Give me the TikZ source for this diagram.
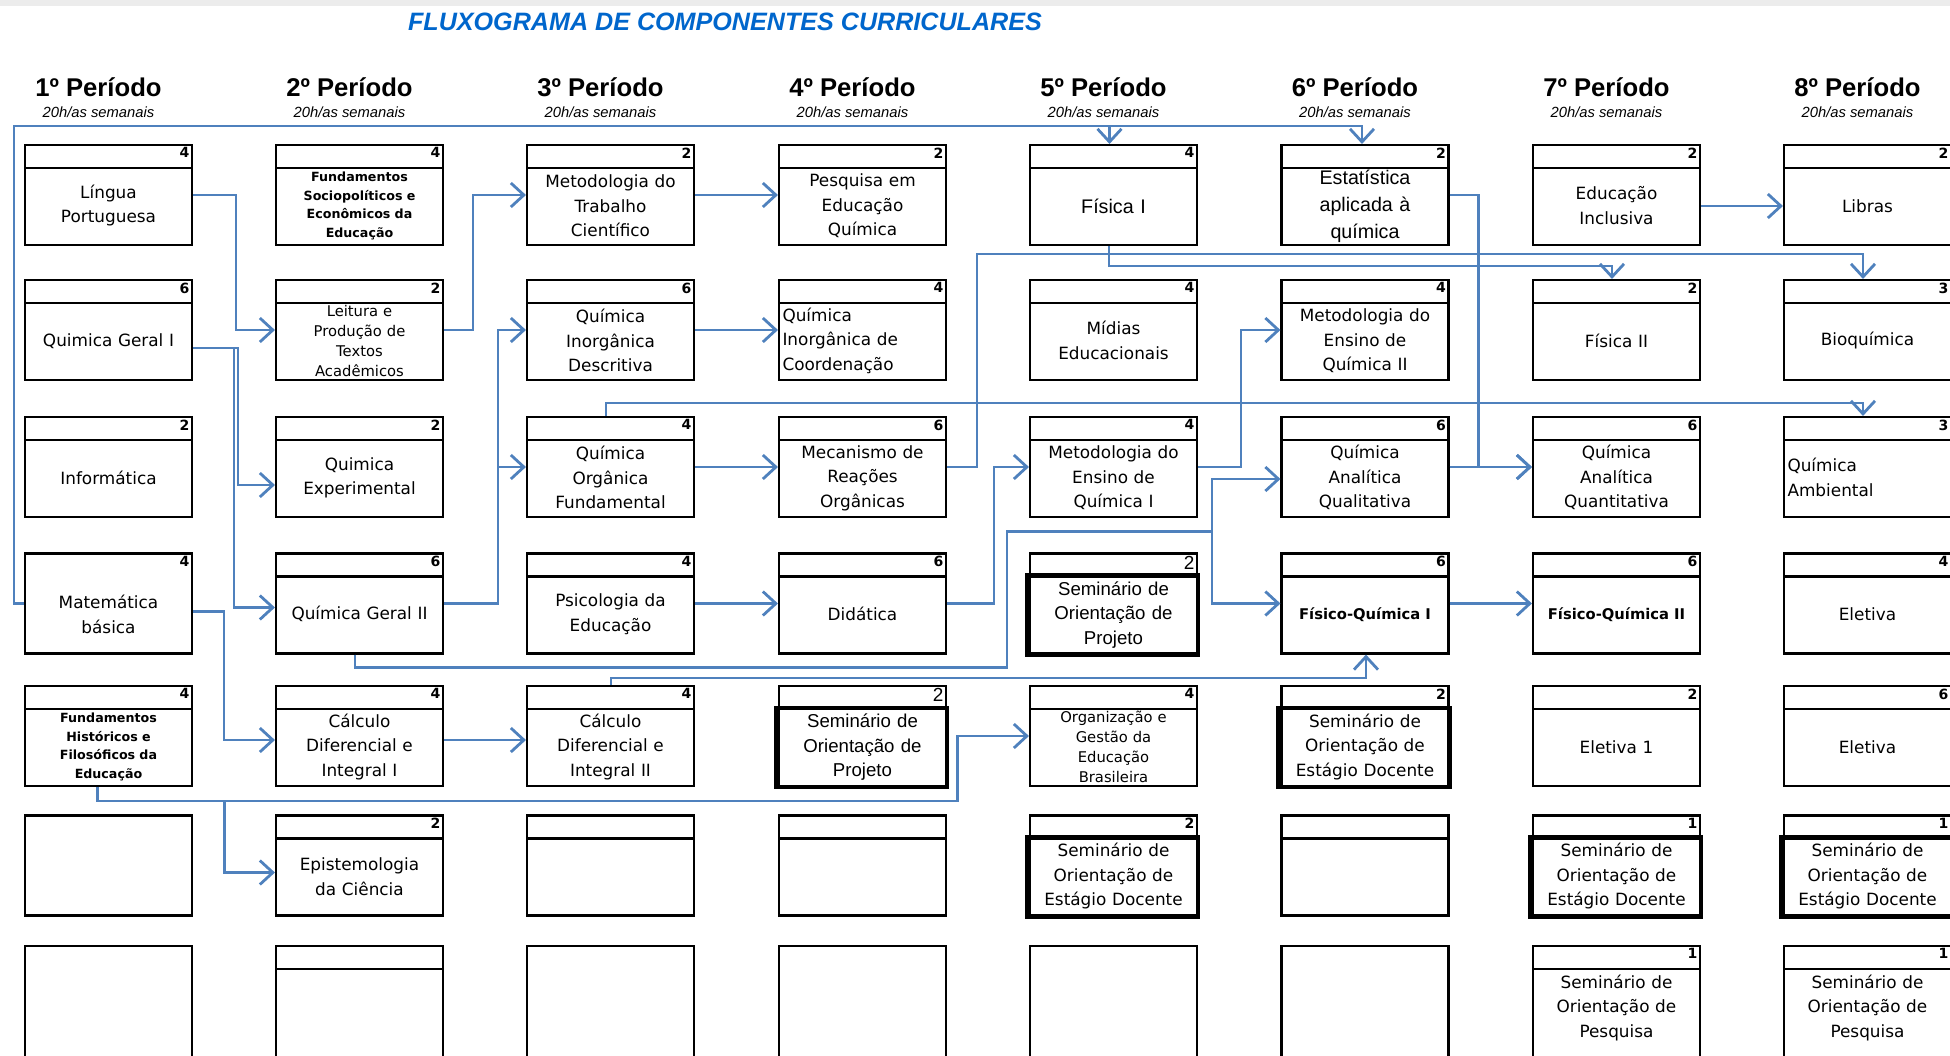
\documentclass[tikz,border=0pt]{standalone}
\usepackage{fontspec}
\setmainfont{DejaVu Sans}
\newfontfamily\arialfont{Liberation Sans}
\usetikzlibrary{arrows.meta, positioning}
\definecolor{azul}{RGB}{79,129,189}
\definecolor{azultit}{RGB}{0,102,204}
\newcommand{\grande}{\arialfont\fontsize{5.6}{7.8}\selectfont}
\newcommand{\miudo}{\fontsize{4.2}{5.6}\selectfont}
\newcommand{\miudob}{\bfseries\fontsize{3.6}{5.3}\selectfont}
\tikzstyle{corpo} = [rectangle, draw=black, line width=0.6pt, minimum width=1.67cm, inner sep=0.02cm, text width=1.6cm, align=center, font=\fontsize{4.8}{7}\selectfont]
\tikzstyle{caixa} = [corpo, minimum height=1cm, execute at begin node={\rule{0pt}{\dimexpr0.22cm+0.76em\relax}}]
\tikzstyle{caixab} = [corpo, minimum height=1.2cm, execute at begin node={\rule{0pt}{\dimexpr0.04cm+0.76em\relax}}]
\tikzstyle{cab} = [path picture={\draw[line width=0.6pt] ([yshift=-0.23cm]path picture bounding box.north west) -- ([yshift=-0.23cm]path picture bounding box.north east);}]
\tikzstyle{disc} = [caixa, cab]
\tikzstyle{discb} = [caixab, cab]
\tikzstyle{projeto} = [disc, font=\arialfont\fontsize{5.3}{7}\selectfont, inner ysep=0pt]
\tikzstyle{cred} = [anchor=north east, inner sep=0.03cm, text width=, align=right, font=\bfseries\fontsize{4}{4}\selectfont]
\tikzstyle{credg} = [cred, font=\arialfont\fontsize{5.4}{5.4}\selectfont]
\tikzstyle{grosso} = [line width=1.3pt]
\tikzstyle{seta} = [draw=azul, line width=0.8pt, -{Straight Barb[length=1.3mm, width=2.4mm]}]
\tikzstyle{periodo} = [font=\arialfont\bfseries\fontsize{7.3}{8}\selectfont]
\tikzstyle{horas} = [font=\arialfont\itshape\fontsize{4.2}{4.5}\selectfont]

\begin{document}
\begin{tikzpicture}
        \useasboundingbox (0,0) rectangle (19.5,-10.56);
        \draw[gray!15, line width=2pt] (0,-0.02) -- (19.5,-0.02);
        % titulo
        \node[font=\arialfont\bfseries\itshape\fontsize{7.15}{8}\selectfont, text=azultit] (tit) at (7.25,-0.22) {FLUXOGRAMA DE COMPONENTES CURRICULARES};

        % periodos
        \node[periodo] (p1) at (0.985,-0.87) {1º Período};
        \node[horas] (h1) at (0.985,-1.12) {20h/as semanais};
        \node[periodo] (p2) at (3.495,-0.87) {2º Período};
        \node[horas] (h2) at (3.495,-1.12) {20h/as semanais};
        \node[periodo] (p3) at (6.005,-0.87) {3º Período};
        \node[horas] (h3) at (6.005,-1.12) {20h/as semanais};
        \node[periodo] (p4) at (8.525,-0.87) {4º Período};
        \node[horas] (h4) at (8.525,-1.12) {20h/as semanais};
        \node[periodo] (p5) at (11.035,-0.87) {5º Período};
        \node[horas] (h5) at (11.035,-1.12) {20h/as semanais};
        \node[periodo] (p6) at (13.55,-0.87) {6º Período};
        \node[horas] (h6) at (13.55,-1.12) {20h/as semanais};
        \node[periodo] (p7) at (16.065,-0.87) {7º Período};
        \node[horas] (h7) at (16.065,-1.12) {20h/as semanais};
        \node[periodo] (p8) at (18.575,-0.87) {8º Período};
        \node[horas] (h8) at (18.575,-1.12) {20h/as semanais};

        % 1o periodo
        \node[disc, label={[cred]north east:4}] (lpo) at (1.085,-1.95) {Língua\\Portuguesa};
        \node[disc, label={[cred]north east:6}] (qg1) at (1.085,-3.30) {Quimica Geral I};
        \node[disc, label={[cred]north east:2}] (inf) at (1.085,-4.67) {Informática};
        \node[caixa, label={[cred]north east:4}] (mab) at (1.085,-6.035) {Matemática\\básica};
        \node[disc, font=\miudob, label={[cred]north east:4}] (fhf) at (1.085,-7.36) {Fundamentos\\Históricos e\\Filosóficos da\\Educação};
        \node[caixa] (v16) at (1.085,-8.655) {};
        \node[caixab] (v17) at (1.085,-10.06) {};

        % 2o periodo
        \node[disc, font=\miudob, label={[cred]north east:4}] (fse) at (3.595,-1.95) {Fundamentos\\Sociopolíticos e\\Econômicos da\\Educação};
        \node[disc, font=\miudo, label={[cred]north east:2}] (lpt) at (3.595,-3.30) {Leitura e\\Produção de\\Textos\\Acadêmicos};
        \node[disc, label={[cred]north east:2}] (qex) at (3.595,-4.67) {Quimica\\Experimental};
        \node[disc, label={[cred]north east:6}] (qg2) at (3.595,-6.035) {Química Geral II};
        \node[disc, label={[cred]north east:4}] (cd1) at (3.595,-7.36) {Cálculo\\Diferencial e\\Integral I};
        \node[disc, label={[cred]north east:2}] (epi) at (3.595,-8.655) {Epistemologia\\da Ciência};
        \node[discb] (v27) at (3.595,-10.06) {};

        % 3o periodo
        \node[disc, label={[cred]north east:2}] (mtc) at (6.105,-1.95) {Metodologia do\\Trabalho\\Científico};
        \node[disc, label={[cred]north east:6}] (qid) at (6.105,-3.30) {Química\\Inorgânica\\Descritiva};
        \node[disc, label={[cred]north east:4}] (qof) at (6.105,-4.67) {Química\\Orgânica\\Fundamental};
        \node[disc, label={[cred]north east:4}] (psi) at (6.105,-6.035) {Psicologia da\\Educação};
        \node[disc, label={[cred]north east:4}] (cd2) at (6.105,-7.36) {Cálculo\\Diferencial e\\Integral II};
        \node[disc] (v36) at (6.105,-8.655) {};
        \node[caixab] (v37) at (6.105,-10.06) {};

        % 4o periodo
        \node[disc, label={[cred]north east:2}] (peq) at (8.625,-1.95) {Pesquisa em\\Educação\\Química};
        \node[disc, align=left, label={[cred]north east:4}] (qic) at (8.625,-3.30) {Química\\Inorgânica de\\Coordenação};
        \node[disc, label={[cred]north east:6}] (mro) at (8.625,-4.67) {Mecanismo de\\Reações\\Orgânicas};
        \node[disc, label={[cred]north east:6}] (dida) at (8.625,-6.035) {Didática};
        \node[projeto, label={[credg]north east:2}] (sop4) at (8.625,-7.36) {Seminário de\\Orientação de\\Projeto};
        \node[disc] (v46) at (8.625,-8.655) {};
        \node[caixab] (v47) at (8.625,-10.06) {};

        % 5o periodo
        \node[disc, font=\grande, label={[cred]north east:4}] (fi1) at (11.135,-1.95) {Física I};
        \node[disc, label={[cred]north east:4}] (mid) at (11.135,-3.30) {Mídias\\Educacionais};
        \node[disc, label={[cred]north east:4}] (meq1) at (11.135,-4.67) {Metodologia do\\Ensino de\\Química I};
        \node[projeto, label={[credg]north east:2}] (sop5) at (11.135,-6.035) {Seminário de\\Orientação de\\Projeto};
        \node[disc, font=\miudo, label={[cred]north east:4}] (oge) at (11.135,-7.36) {Organização e\\Gestão da\\Educação\\Brasileira};
        \node[disc, label={[cred]north east:2}] (sed5) at (11.135,-8.655) {Seminário de\\Orientação de\\Estágio Docente};
        \node[caixab] (v57) at (11.135,-10.06) {};

        % 6o periodo
        \node[disc, font=\grande, label={[cred]north east:2}] (est) at (13.65,-1.95) {Estatística\\aplicada à\\química};
        \node[disc, label={[cred]north east:4}] (meq2) at (13.65,-3.30) {Metodologia do\\Ensino de\\Química II};
        \node[disc, label={[cred]north east:6}] (qaql) at (13.65,-4.67) {Química\\Analítica\\Qualitativa};
        \node[disc, font=\bfseries\fontsize{4.2}{6}\selectfont, label={[cred]north east:6}] (fq1) at (13.65,-6.035) {Físico-Química I};
        \node[disc, label={[cred]north east:2}] (sed6) at (13.65,-7.36) {Seminário de\\Orientação de\\Estágio Docente};
        \node[disc] (v66) at (13.65,-8.655) {};
        \node[caixab] (v67) at (13.65,-10.06) {};

        % 7o periodo
        \node[disc, label={[cred]north east:2}] (edi) at (16.165,-1.95) {Educação\\Inclusiva};
        \node[disc, label={[cred]north east:2}] (fi2) at (16.165,-3.30) {Física II};
        \node[disc, label={[cred]north east:6}] (qaqt) at (16.165,-4.67) {Química\\Analítica\\Quantitativa};
        \node[disc, font=\bfseries\fontsize{4.2}{6}\selectfont, label={[cred]north east:6}] (fq2) at (16.165,-6.035) {Físico-Química II};
        \node[disc, label={[cred]north east:2}] (el1) at (16.165,-7.36) {Eletiva 1};
        \node[disc, label={[cred]north east:1}] (sed7) at (16.165,-8.655) {Seminário de\\Orientação de\\Estágio Docente};
        \node[discb, label={[cred]north east:1}] (spe7) at (16.165,-10.06) {Seminário de\\Orientação de\\Pesquisa};

        % 8o periodo
        \node[disc, label={[cred]north east:2}] (lib) at (18.675,-1.95) {Libras};
        \node[disc, label={[cred]north east:3}] (bio) at (18.675,-3.30) {Bioquímica};
        \node[disc, align=left, label={[cred]north east:3}] (qam) at (18.675,-4.67) {Química\\Ambiental};
        \node[disc, label={[cred]north east:4}] (el8a) at (18.675,-6.035) {Eletiva};
        \node[disc, label={[cred]north east:6}] (el8b) at (18.675,-7.36) {Eletiva};
        \node[disc, label={[cred]north east:1}] (sed8) at (18.675,-8.655) {Seminário de\\Orientação de\\Estágio Docente};
        \node[discb, label={[cred]north east:1}] (spe8) at (18.675,-10.06) {Seminário de\\Orientação de\\Pesquisa};

        % seminarios: corpo com borda grossa
        \draw[grosso] ([xshift=-0.02cm,yshift=-0.23cm]sop4.north west) rectangle (sop4.south east);
        \draw[grosso] ([xshift=-0.02cm,yshift=-0.23cm]sop5.north west) rectangle (sop5.south east);
        \draw[grosso] ([xshift=-0.02cm,yshift=-0.23cm]sed5.north west) rectangle (sed5.south east);
        \draw[grosso] ([xshift=-0.02cm,yshift=-0.23cm]sed6.north west) rectangle (sed6.south east);
        \draw[grosso] ([xshift=-0.02cm,yshift=-0.23cm]sed7.north west) rectangle (sed7.south east);
        \draw[grosso] ([xshift=-0.02cm,yshift=-0.23cm]sed8.north west) rectangle (sed8.south east);

        % pre-requisitos: 1o periodo
        \draw[seta] (lpo.east) -- ++(0.43,0) |- (lpt.west);
        \draw[seta] ([yshift=-0.18cm]qg1.east) -- ++(0.45,0) |- ([yshift=-0.18cm]qex.west);
        \draw[seta] ([yshift=-0.18cm]qg1.east) -- ++(0.41,0) |- ([yshift=-0.04cm]qg2.west);
        \draw[seta] ([yshift=-0.08cm]mab.east) -- ++(0.31,0) |- ([yshift=-0.04cm]cd1.west);
        \draw[seta] (mab.west) -- ++(-0.1,0) |- ([xshift=-0.04cm,yshift=0.18cm]fi1.north) -- ([xshift=-0.04cm]fi1.north);
        \draw[seta] (mab.west) -- ++(-0.1,0) |- ([xshift=-0.03cm,yshift=0.18cm]est.north) -- ([xshift=-0.03cm]est.north);
        \draw[seta] ([xshift=-0.11cm]fhf.south) -- ++(0,-0.14) -- ++(8.6,0) |- (oge.west);
        \draw[seta] ([xshift=-0.11cm]fhf.south) -- ++(0,-0.14) -- ++(1.27,0) |- ([yshift=-0.07cm]epi.west);

        % pre-requisitos: 2o periodo
        \draw[seta] (lpt.east) -- ++(0.29,0) |- (mtc.west);
        \draw[seta] (qg2.east) -- ++(0.54,0) |- (qid.west);
        \draw[seta] (qg2.east) -- ++(0.54,0) |- (qof.west);
        \draw[seta] ([yshift=-0.04cm]cd1.east) -- ([yshift=-0.04cm]cd2.west);
        \draw[seta] ([xshift=-0.045cm]qg2.south) -- ++(0,-0.13) -- ++(6.52,0) -- ++(0,1.36) -- ++(2.05,0) |- ([yshift=-0.12cm]qaql.west);
        \draw[seta] ([xshift=-0.045cm]qg2.south) -- ++(0,-0.13) -- ++(6.52,0) -- ++(0,1.36) -- ++(2.05,0) |- (fq1.west);

        % pre-requisitos: 3o periodo
        \draw[seta] (mtc.east) -- (peq.west);
        \draw[seta] (qid.east) -- (qic.west);
        \draw[seta] (qof.east) -- (mro.west);
        \draw[seta] (psi.east) -- (dida.west);
        \draw[seta] ([xshift=-0.045cm]qof.north) -- ++(0,0.13) -| ([xshift=-0.045cm]qam.north);
        \draw[seta] ([xshift=0.005cm]cd2.north) -- ++(0,0.07) -| ([xshift=0.01cm]fq1.south);

        % pre-requisitos: 4o e 5o periodos
        \draw[seta] (mro.east) -- ++(0.30,0) |- ([xshift=-0.045cm,yshift=0.25cm]bio.north) -- ([xshift=-0.045cm]bio.north);
        \draw[seta] (dida.east) -- ++(0.47,0) |- (meq1.west);
        \draw[seta] ([xshift=-0.045cm]fi1.south) -- ++(0,-0.2) -| ([xshift=-0.045cm]fi2.north);
        \draw[seta] (meq1.east) -- ++(0.43,0) |- (meq2.west);

        % pre-requisitos: 6o e 7o periodos
        \draw[seta] (est.east) -- ++(0.29,0) |- (qaqt.west);
        \draw[seta] (qaql.east) -- (qaqt.west);
        \draw[seta] (fq1.east) -- (fq2.west);
        \draw[seta] ([yshift=-0.11cm]edi.east) -- ([yshift=-0.11cm]lib.west);
\end{tikzpicture}
\end{document}
